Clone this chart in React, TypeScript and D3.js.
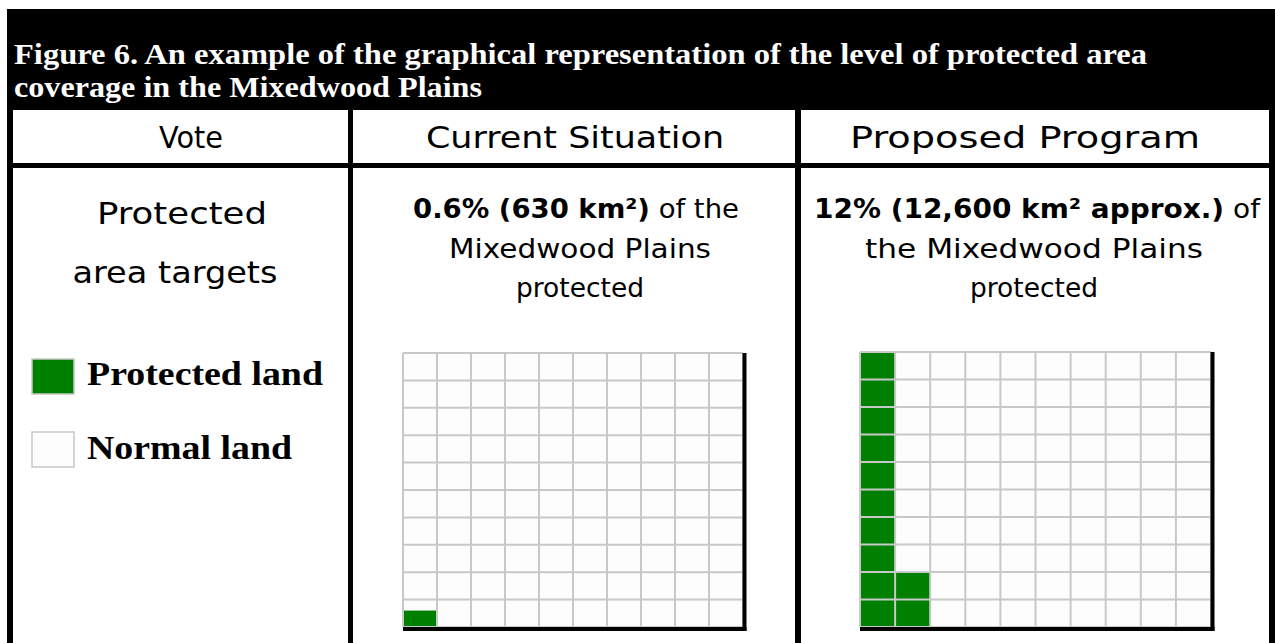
import React from "react";
import * as d3 from "d3";

const titleLines = [
  "Figure 6. An example of the graphical representation of the level of protected area",
  "coverage in the Mixedwood Plains",
];
const columnHeaders = ["Vote", "Current Situation", "Proposed Program"];
const voteLines = ["Protected", "area targets"];
const protectedPercent = [0.6, 12];
const boldLabels = ["0.6% (630 km²)", "12% (12,600 km² approx.)"];
const afterBold = [" of the", " of"];
const secondLines = ["Mixedwood Plains", "the Mixedwood Plains"];
const thirdLines = ["protected", "protected"];
const legendLabels = ["Protected land", "Normal land"];
const gridSize = d3.range(10);

const W = 1275;
const H = 643;
const GREEN = "#008000";
const SANS = "'DejaVu Sans', sans-serif";
const SERIF = "'Liberation Serif', 'Times New Roman', serif";

const colLeft = [13, 353, 801];
const colRight = [348, 795, 1269];
const gridBoxes = [
  { x0: 403, x1: 743, y0: 353, y1: 627 },
  { x0: 860, x1: 1211, y0: 352, y1: 627 },
];
// text layout (positions / widths only)
const headerX = [191, 575, 1025];
const headerLen = [64, 298, 350];
const voteX = [182, 175];
const voteLen = [170, 205];
const line1X = [576, 1037];
const line1Len = [326, 446];
const line2X = [580, 1034];
const line2Len = [262, 338];
const line3Len = [128, 128];

function Grid({ box, pct }: { box: any; pct: number }) {
  const x = d3.scaleBand<number>().domain(gridSize).range([box.x0, box.x1]);
  const y = d3.scaleBand<number>().domain(gridSize).range([box.y1, box.y0]);
  const bw = x.bandwidth();
  const bh = y.bandwidth();
  const cells: any[] = [];
  gridSize.forEach((c) =>
    gridSize.forEach((r) => {
      const k = c * 10 + r;
      const frac = Math.max(0, Math.min(1, pct - k));
      cells.push({ c, r, frac });
    })
  );
  return (
    <g>
      {cells.map((d) => (
        <rect key={`b${d.c}-${d.r}`} x={x(d.c)} y={y(d.r)} width={bw} height={bh} fill="#fdfdfd" />
      ))}
      {cells
        .filter((d) => d.frac > 0)
        .map((d) => (
          <rect
            key={`g${d.c}-${d.r}`}
            x={x(d.c)}
            y={(y(d.r) as number) + bh * (1 - d.frac)}
            width={bw}
            height={bh * d.frac}
            fill={GREEN}
          />
        ))}
      {d3.range(11).map((i) => {
        const xv = box.x0 + i * bw;
        return <line key={`v${i}`} x1={xv} x2={xv} y1={box.y0} y2={box.y1} stroke="#c8c8c8" strokeWidth={2} />;
      })}
      {d3.range(11).map((i) => {
        const yv = box.y0 + i * bh;
        return <line key={`h${i}`} x1={box.x0} x2={box.x1} y1={yv} y2={yv} stroke="#c8c8c8" strokeWidth={2} />;
      })}
      <line x1={box.x1 + 1.5} x2={box.x1 + 1.5} y1={box.y0} y2={box.y1 + 4} stroke="#000" strokeWidth={4} />
      <line x1={box.x0} x2={box.x1 + 3.5} y1={box.y1 + 2} y2={box.y1 + 2} stroke="#000" strokeWidth={4} />
    </g>
  );
}

export default function App() {
  return (
    <svg width={W} height={H} style={{ position: "absolute", left: 0, top: 0, background: "#fff" }}>
      <rect x={7} y={9} width={W - 7} height={H - 9} fill="#000" />
      <text fontFamily={SERIF} fontWeight="bold" fontSize={30} fill="#fff">
        <tspan x={14} y={64} textLength={1133} lengthAdjust="spacingAndGlyphs">
          {titleLines[0]}
        </tspan>
        <tspan x={14} y={97} textLength={468} lengthAdjust="spacingAndGlyphs">
          {titleLines[1]}
        </tspan>
      </text>
      {columnHeaders.map((h, i) => (
        <g key={h}>
          <rect x={colLeft[i]} y={110} width={colRight[i] - colLeft[i]} height={53} fill="#fff" />
          <rect x={colLeft[i]} y={168} width={colRight[i] - colLeft[i]} height={H - 168} fill="#fff" />
          <text
            x={headerX[i]}
            y={148}
            textAnchor="middle"
            fontFamily={SANS}
            fontSize={31}
            fill="#000"
            textLength={headerLen[i]}
            lengthAdjust="spacingAndGlyphs"
          >
            {h}
          </text>
        </g>
      ))}
      {voteLines.map((t, i) => (
        <text
          key={t}
          x={voteX[i]}
          y={224 + i * 59}
          textAnchor="middle"
          fontFamily={SANS}
          fontSize={31}
          fill="#000"
          textLength={voteLen[i]}
          lengthAdjust="spacingAndGlyphs"
        >
          {t}
        </text>
      ))}
      {protectedPercent.map((p, i) => (
        <g key={i}>
          <text
            x={line1X[i]}
            y={218}
            textAnchor="middle"
            fontFamily={SANS}
            fontSize={26}
            fill="#000"
            textLength={line1Len[i]}
            lengthAdjust="spacingAndGlyphs"
          >
            <tspan fontWeight="bold">{boldLabels[i]}</tspan>
            <tspan>{afterBold[i]}</tspan>
          </text>
          <text
            x={line2X[i]}
            y={258}
            textAnchor="middle"
            fontFamily={SANS}
            fontSize={26}
            fill="#000"
            textLength={line2Len[i]}
            lengthAdjust="spacingAndGlyphs"
          >
            {secondLines[i]}
          </text>
          <text
            x={line2X[i]}
            y={297}
            textAnchor="middle"
            fontFamily={SANS}
            fontSize={26}
            fill="#000"
            textLength={line3Len[i]}
            lengthAdjust="spacingAndGlyphs"
          >
            {thirdLines[i]}
          </text>
          <Grid box={gridBoxes[i]} pct={p} />
        </g>
      ))}
      {legendLabels.map((l, i) => (
        <g key={l}>
          <rect
            x={32}
            y={359 + i * 73}
            width={42}
            height={35}
            fill={i === 0 ? GREEN : "#fdfdfd"}
            stroke="#c8c8c8"
            strokeWidth={1.5}
          />
          <text
            x={87}
            y={385 + i * 74}
            fontFamily={SERIF}
            fontWeight="bold"
            fontSize={34}
            fill="#000"
            textLength={i === 0 ? 236 : 205}
            lengthAdjust="spacingAndGlyphs"
          >
            {l}
          </text>
        </g>
      ))}
    </svg>
  );
}
